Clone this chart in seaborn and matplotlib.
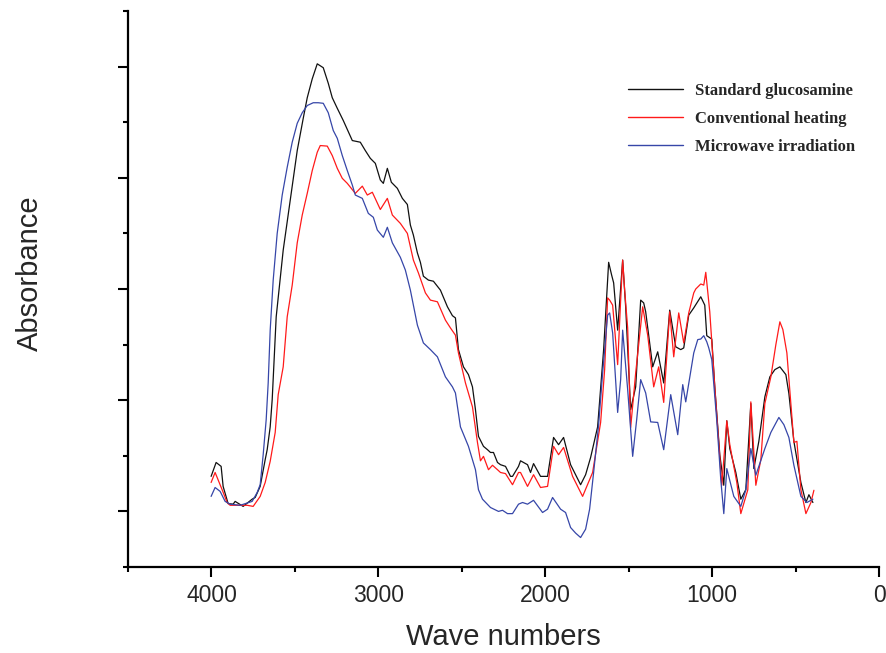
import matplotlib
matplotlib.use("Agg")
import matplotlib.pyplot as plt
from matplotlib.ticker import MultipleLocator
import seaborn as sns
import pandas as pd

std_wn = [4002, 3972, 3942, 3930, 3900, 3870, 3858, 3810, 3756, 3738, 3708, 3678, 3666, 3648, 3636, 3612,
          3570, 3528, 3486, 3450, 3426, 3396, 3366, 3330, 3300, 3276, 3246, 3210, 3156, 3108, 3078, 3048,
          3018, 2988, 2970, 2946, 2922, 2886, 2856, 2826, 2808, 2790, 2766, 2748, 2730, 2700, 2670, 2628,
          2586, 2556, 2538, 2520, 2490, 2460, 2436, 2418, 2400, 2370, 2346, 2328, 2310, 2286, 2268, 2238,
          2208, 2196, 2160, 2148, 2106, 2088, 2070, 2028, 1986, 1950, 1920, 1890, 1848, 1818, 1788, 1758,
          1728, 1686, 1650, 1620, 1602, 1590, 1566, 1536, 1518, 1488, 1458, 1428, 1410, 1398, 1356, 1326,
          1290, 1254, 1218, 1188, 1170, 1140, 1110, 1068, 1044, 1032, 1002, 984, 954, 930, 912, 894,
          858, 828, 798, 768, 750, 720, 684, 654, 624, 594, 558, 540, 510, 468, 438, 420, 396]
std_abs = [0.263, 0.288, 0.281, 0.245, 0.214, 0.213, 0.218, 0.209, 0.222, 0.225, 0.245, 0.293, 0.311, 0.352, 0.401, 0.550,
           0.670, 0.760, 0.849, 0.907, 0.944, 0.978, 1.005, 0.998, 0.970, 0.944, 0.925, 0.903, 0.867, 0.864, 0.849, 0.835,
           0.826, 0.796, 0.790, 0.817, 0.792, 0.781, 0.763, 0.752, 0.715, 0.697, 0.665, 0.648, 0.623, 0.616, 0.614, 0.598,
           0.568, 0.552, 0.548, 0.491, 0.460, 0.446, 0.424, 0.383, 0.335, 0.317, 0.311, 0.306, 0.306, 0.288, 0.284, 0.281,
           0.263, 0.263, 0.281, 0.291, 0.284, 0.270, 0.286, 0.263, 0.263, 0.333, 0.320, 0.333, 0.284, 0.266, 0.248, 0.266,
           0.297, 0.352, 0.491, 0.648, 0.625, 0.611, 0.526, 0.652, 0.568, 0.383, 0.424, 0.580, 0.575, 0.559, 0.460, 0.487,
           0.431, 0.562, 0.496, 0.491, 0.494, 0.553, 0.566, 0.586, 0.571, 0.516, 0.510, 0.424, 0.302, 0.247, 0.363, 0.313,
           0.270, 0.222, 0.239, 0.394, 0.277, 0.326, 0.406, 0.442, 0.455, 0.460, 0.446, 0.412, 0.326, 0.252, 0.216, 0.230, 0.216]

conv_wn = [4002, 3978, 3936, 3906, 3888, 3828, 3786, 3750, 3708, 3678, 3648, 3618, 3600, 3570, 3546, 3516,
           3486, 3456, 3426, 3396, 3366, 3348, 3306, 3276, 3246, 3216, 3186, 3138, 3096, 3066, 3036, 2988,
           2946, 2916, 2868, 2826, 2790, 2760, 2718, 2688, 2646, 2598, 2568, 2538, 2520, 2478, 2436, 2406,
           2388, 2370, 2340, 2316, 2286, 2268, 2238, 2196, 2160, 2148, 2106, 2070, 2028, 1986, 1950, 1920,
           1890, 1836, 1776, 1716, 1668, 1644, 1626, 1614, 1596, 1566, 1548, 1536, 1524, 1506, 1488, 1458,
           1416, 1386, 1350, 1320, 1290, 1254, 1230, 1200, 1170, 1140, 1110, 1098, 1068, 1050, 1038, 1014,
           984, 942, 912, 894, 852, 828, 786, 768, 738, 708, 684, 648, 618, 594, 576, 552,
           510, 492, 468, 438, 408, 390]
conv_abs = [0.252, 0.270, 0.239, 0.216, 0.211, 0.211, 0.211, 0.209, 0.227, 0.252, 0.290, 0.342, 0.410, 0.460, 0.550, 0.607,
            0.683, 0.733, 0.772, 0.813, 0.846, 0.858, 0.857, 0.840, 0.817, 0.799, 0.790, 0.772, 0.785, 0.769, 0.774, 0.743,
            0.763, 0.733, 0.718, 0.700, 0.652, 0.629, 0.593, 0.580, 0.577, 0.544, 0.530, 0.517, 0.485, 0.431, 0.388, 0.324,
            0.291, 0.299, 0.275, 0.283, 0.275, 0.270, 0.268, 0.248, 0.270, 0.270, 0.245, 0.266, 0.243, 0.245, 0.317, 0.302,
            0.315, 0.263, 0.227, 0.270, 0.360, 0.455, 0.584, 0.580, 0.571, 0.464, 0.580, 0.652, 0.598, 0.530, 0.351, 0.449,
            0.568, 0.517, 0.424, 0.460, 0.396, 0.559, 0.478, 0.557, 0.503, 0.557, 0.593, 0.600, 0.609, 0.607, 0.630, 0.559,
            0.424, 0.247, 0.363, 0.320, 0.252, 0.196, 0.239, 0.397, 0.247, 0.293, 0.394, 0.442, 0.500, 0.541, 0.527, 0.485,
            0.324, 0.326, 0.239, 0.196, 0.216, 0.238]

mw_wn = [4002, 3978, 3948, 3918, 3888, 3828, 3756, 3726, 3708, 3690, 3672, 3660, 3648, 3630, 3606, 3576,
         3546, 3516, 3486, 3456, 3426, 3390, 3360, 3330, 3300, 3270, 3246, 3216, 3186, 3156, 3138, 3096,
         3060, 3030, 3006, 2970, 2946, 2916, 2868, 2838, 2808, 2766, 2730, 2688, 2646, 2598, 2556, 2538,
         2508, 2460, 2418, 2400, 2376, 2328, 2280, 2256, 2226, 2196, 2160, 2136, 2106, 2070, 2016, 1986,
         1956, 1908, 1878, 1848, 1818, 1788, 1758, 1734, 1710, 1680, 1656, 1626, 1614, 1596, 1566, 1548,
         1536, 1506, 1476, 1452, 1428, 1398, 1368, 1326, 1290, 1248, 1206, 1176, 1158, 1110, 1086, 1068,
         1050, 1032, 1020, 1002, 972, 948, 930, 912, 870, 828, 798, 768, 738, 684, 648, 600,
         570, 540, 510, 468, 432, 396]
mw_abs = [0.227, 0.243, 0.236, 0.218, 0.213, 0.211, 0.218, 0.234, 0.248, 0.302, 0.365, 0.431, 0.526, 0.616, 0.700, 0.769,
          0.819, 0.864, 0.898, 0.917, 0.930, 0.935, 0.935, 0.934, 0.917, 0.885, 0.871, 0.840, 0.813, 0.787, 0.769, 0.763,
          0.736, 0.729, 0.706, 0.693, 0.711, 0.683, 0.657, 0.634, 0.598, 0.535, 0.503, 0.491, 0.478, 0.442, 0.424, 0.413,
          0.352, 0.317, 0.275, 0.239, 0.222, 0.207, 0.200, 0.202, 0.196, 0.196, 0.213, 0.216, 0.213, 0.220, 0.198, 0.204,
          0.225, 0.204, 0.198, 0.171, 0.161, 0.153, 0.168, 0.204, 0.270, 0.356, 0.449, 0.553, 0.557, 0.521, 0.378, 0.437,
          0.526, 0.419, 0.299, 0.365, 0.437, 0.413, 0.361, 0.360, 0.311, 0.410, 0.338, 0.428, 0.397, 0.485, 0.509, 0.510,
          0.516, 0.505, 0.494, 0.473, 0.363, 0.257, 0.196, 0.277, 0.227, 0.209, 0.239, 0.313, 0.265, 0.313, 0.342, 0.369,
          0.356, 0.333, 0.283, 0.227, 0.216, 0.222]

labels = ["Standard glucosamine", "Conventional heating", "Microwave irradiation"]
colors = ["#111111", "#ff1a1a", "#3646a8"]
xtick_vals = [4000, 3000, 2000, 1000, 0]
xtick_labels = ["4000", "3000", "2000", "1000", "0"]

df = pd.concat([
    pd.DataFrame({"wn": std_wn, "abs": std_abs, "sample": labels[0]}),
    pd.DataFrame({"wn": conv_wn, "abs": conv_abs, "sample": labels[1]}),
    pd.DataFrame({"wn": mw_wn, "abs": mw_abs, "sample": labels[2]}),
])

sns.set_theme(style="ticks")
plt.rcParams["font.family"] = ["Liberation Sans", "DejaVu Sans"]

fig = plt.figure(figsize=(8.86, 6.53), dpi=100)
ax = fig.add_axes([128/886, 1-567/653, 751/886, 556/653])

sns.lineplot(data=df, x="wn", y="abs", hue="sample", hue_order=labels,
             palette=colors, estimator=None, sort=False, linewidth=0.9, ax=ax, legend=True)

ax.set_xlim(4500, 0)
ax.set_ylim(0.1, 1.1)
ax.set_xticks(xtick_vals)
ax.set_xticklabels(xtick_labels)
ax.xaxis.set_minor_locator(MultipleLocator(500))
ax.yaxis.set_major_locator(MultipleLocator(0.2))
ax.yaxis.set_minor_locator(MultipleLocator(0.1))
ax.tick_params(axis="both", which="major", direction="out", length=7.5, width=1.5,
               labelsize=16.5, color="black", pad=5)
ax.tick_params(axis="both", which="minor", direction="out", length=3.8, width=1.5, color="black")
ax.tick_params(axis="y", which="both", labelleft=False)
for s in ["top", "right"]:
    ax.spines[s].set_visible(False)
for s in ["left", "bottom"]:
    ax.spines[s].set_linewidth(1.6)
    ax.spines[s].set_color("black")

ax.set_xlabel("Wave numbers", fontsize=21)
ax.xaxis.set_label_coords(0.5, -0.100)
ax.set_ylabel("Absorbance", fontsize=21)
ax.yaxis.label.set_va("center")
ax.yaxis.set_label_coords(-0.130, 0.529)

handles, lbls = ax.get_legend_handles_labels()
leg = ax.legend(handles, lbls, loc="upper left", bbox_to_anchor=(616/886, 1-71/653),
                bbox_transform=fig.transFigure, frameon=False,
                prop={"family": "Liberation Serif", "weight": "bold", "size": 12},
                handlelength=3.3, handletextpad=0.75, labelspacing=0.72, borderpad=0.2)
for h in leg.get_lines():
    h.set_linewidth(1.0)

fig.savefig("out.png", dpi=100)
